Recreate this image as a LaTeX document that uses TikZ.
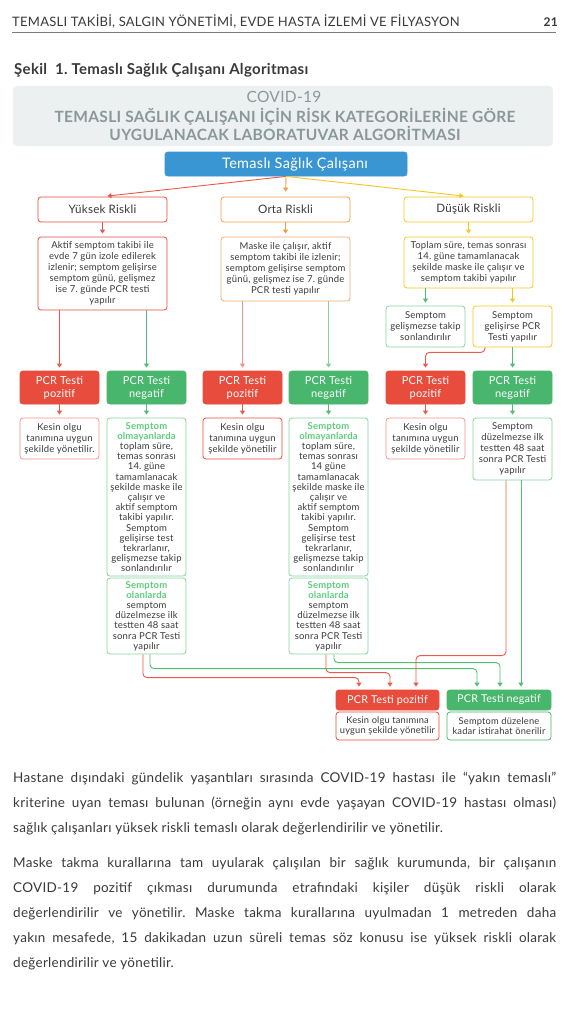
\documentclass[tikz,border=0pt]{standalone}
\usepackage{fontspec}
\setmainfont{Lato}[LetterSpace=2]
\usetikzlibrary{arrows.meta,calc}
\definecolor{cred}{HTML}{E74C3C}
\definecolor{credl}{HTML}{F1948A}
\definecolor{credline}{HTML}{EA5A4C}
\definecolor{cgreen}{HTML}{48B66C}
\definecolor{cgreenl}{HTML}{86D29C}
\definecolor{cgreenline}{HTML}{52BC74}
\definecolor{corange}{HTML}{F39C3C}
\definecolor{corangel}{HTML}{F4AA70}
\definecolor{cyellow}{HTML}{F4C724}
\definecolor{cblue}{HTML}{3A96D3}
\definecolor{cgraybg}{HTML}{ECF0F1}
\definecolor{ctitle}{HTML}{8A9899}
\definecolor{ctxt}{HTML}{3A3A3A}
\definecolor{cemph}{HTML}{5CCF7C}
\definecolor{crule}{HTML}{7A7A7A}
\newcommand\myfs[2]{\fontsize{#1}{#2}\selectfont}
\newcommand\hlg[1]{\textcolor{cemph}{\bfseries #1}}
\frenchspacing
\begin{document}
\begin{tikzpicture}[x=1pt,y=-1pt,
  basebox/.style={rounded corners=3pt, line width=0.8pt, align=center, inner sep=1pt, text=ctxt, fill=white, font=\myfs{9.5}{11}},
  outl/.style={basebox, draw=#1},
  solidbox/.style={basebox, fill=#1, draw=#1, text=white, font=\myfs{11}{13}},
  arr/.style={-{Triangle[width=5pt,length=4pt]}, line width=0.9pt, shorten >=3pt, rounded corners=4pt},
  plain/.style={anchor=base west, inner sep=0, text=ctxt}
]
\useasboundingbox[fill=white] (0,0) rectangle (566,1022);

% header
\node[plain, font=\myfs{13}{15}] (hdr) at (12,27) {TEMASLI TAKİBİ, SALGIN YÖNETİMİ, EVDE HASTA İZLEMİ VE FİLYASYON};
\node[anchor=base east, inner sep=0, text=ctxt, font=\bfseries\myfs{12}{14}] (pg) at (558,27) {21};
\draw[line width=1pt, crule] (12,33) -- (556,33);

\node[plain, font=\bfseries\myfs{15}{17}] (sekil) at (14,75) {Şekil\ \ 1. Temaslı Sağlık Çalışanı Algoritması};

% title box
\node[fill=cgraybg, rounded corners=4pt, minimum width=540pt, minimum height=60pt, inner sep=0] (tbox) at (283,116) {};
\node[font=\myfs{15.5}{16}, text=ctitle, inner sep=0] (tcovid) at (284,97) {COVID-19};
\node[font=\bfseries\myfs{15.5}{18}, text=ctitle, align=center, inner sep=0] (ttitle) at (285,124) {TEMASLI SAĞLIK ÇALIŞANI İÇİN RİSK KATEGORİLERİNE GÖRE\\UYGULANACAK LABORATUVAR ALGORİTMASI};

% top
\node[solidbox=cblue, minimum width=242pt, minimum height=24pt] (top) at (286,164) {};
\node[text=white, inner sep=0, font=\myfs{14.5}{16}] (toptxt) at (295,164) {Temaslı Sağlık Çalışanı};

% risk boxes
\node[outl=cred, minimum width=129pt, minimum height=25pt, font=\myfs{11.6}{13}] (yr) at (102.5,209.5) {Yüksek Riskli};
\node[outl=corange, minimum width=129pt, minimum height=25pt, font=\myfs{11.6}{13}] (or) at (285.5,209.5) {Orta Riskli};
\node[outl=cyellow, minimum width=129pt, minimum height=25pt, font=\myfs{11.6}{13}] (dr) at (468.5,209.5) {Düşük Riskli};

% descriptions
\node[outl=cred, minimum width=129pt, minimum height=73pt] (yd) at (102.5,273.5) {Aktif semptom takibi ile\\evde 7 gün izole edilerek\\izlenir; semptom gelişirse\\semptom günü, gelişmez\\ise 7. günde PCR testi\\yapılır};
\node[outl=corangel, minimum width=129pt, minimum height=64pt] (od) at (285.5,269) {Maske ile çalışır, aktif\\semptom takibi ile izlenir;\\semptom gelişirse semptom\\günü, gelişmez ise 7. günde\\PCR testi yapılır};
\node[outl=cyellow, minimum width=129pt, minimum height=51pt] (dd) at (468.5,262.5) {Toplam süre, temas sonrası\\14. güne tamamlanacak\\şekilde maske ile çalışır ve\\semptom takibi yapılır};
\node[outl=cgreenl, minimum width=79pt, minimum height=41pt] (dg) at (425.5,326.5) {Semptom\\gelişmezse takip\\sonlandırılır};
\node[outl=cyellow, minimum width=79pt, minimum height=41pt] (dy) at (512.5,326.5) {Semptom\\gelişirse PCR\\Testi yapılır};

% PCR row
\node[solidbox=cred, minimum width=79pt, minimum height=33pt] (ypos) at (59.5,387.5) {PCR Testi\\pozitif};
\node[solidbox=cgreen, minimum width=79pt, minimum height=33pt] (yneg) at (146.5,387.5) {PCR Testi\\negatif};
\node[solidbox=cred, minimum width=79pt, minimum height=33pt] (opos) at (242.5,387.5) {PCR Testi\\pozitif};
\node[solidbox=cgreen, minimum width=79pt, minimum height=33pt] (oneg) at (328.5,387.5) {PCR Testi\\negatif};
\node[solidbox=cred, minimum width=79pt, minimum height=33pt] (dpos) at (425.5,387.5) {PCR Testi\\pozitif};
\node[solidbox=cgreen, minimum width=79pt, minimum height=33pt] (dneg) at (512.5,387.5) {PCR Testi\\negatif};

% results
\node[outl=credl, minimum width=79pt, minimum height=41pt] (yk) at (59.5,438.5) {Kesin olgu\\tanımına uygun\\şekilde yönetilir.};
\node[outl=cgreenl, minimum width=79pt, minimum height=158pt, font=\myfs{9.5}{10.2}] (yg1) at (146.5,497) {\hlg{Semptom}\\\hlg{olmayanlarda}\\toplam süre,\\temas sonrası\\14. güne\\tamamlanacak\\şekilde maske ile\\çalışır ve\\aktif semptom\\takibi yapılır.\\Semptom\\gelişirse test\\tekrarlanır,\\gelişmezse takip\\sonlandırılır};
\node[outl=cgreenl, minimum width=79pt, minimum height=76pt, font=\myfs{9.5}{10.2}] (yg2) at (146.5,616) {\hlg{Semptom}\\\hlg{olanlarda}\\semptom\\düzelmezse ilk\\testten 48 saat\\sonra PCR Testi\\yapılır};
\node[outl=cred, minimum width=79pt, minimum height=41pt] (ok) at (242.5,438.5) {Kesin olgu\\tanımına uygun\\şekilde yönetilir};
\node[outl=cgreenl, minimum width=79pt, minimum height=158pt, font=\myfs{9.5}{10.2}] (og1) at (328.5,497) {\hlg{Semptom}\\\hlg{olmayanlarda}\\toplam süre,\\temas sonrası\\14 güne\\tamamlanacak\\şekilde maske ile\\çalışır ve\\aktif semptom\\takibi yapılır.\\Semptom\\gelişirse test\\tekrarlanır,\\gelişmezse takip\\sonlandırılır};
\node[outl=cgreenl, minimum width=79pt, minimum height=76pt, font=\myfs{9.5}{10.2}] (og2) at (328.5,616) {\hlg{Semptom}\\\hlg{olanlarda}\\semptom\\düzelmezse ilk\\testten 48 saat\\sonra PCR Testi\\yapılır};
\node[outl=credl, minimum width=79pt, minimum height=41pt] (dk) at (425.5,438.5) {Kesin olgu\\tanımına uygun\\şekilde yönetilir};
\node[outl=cgreenl, minimum width=79pt, minimum height=62pt] (dgr) at (512.5,449) {Semptom\\düzelmezse ilk\\testten 48 saat\\sonra PCR Testi\\yapılır};

% final
\node[solidbox=cred, minimum width=103pt, minimum height=20pt, font=\myfs{10.8}{12}] (fpos) at (387.5,700) {PCR Testi pozitif};
\node[solidbox=cgreen, minimum width=104pt, minimum height=20pt, font=\myfs{10.8}{12}] (fneg) at (499,700) {PCR Testi negatif};
\node[outl=cred, minimum width=103pt, minimum height=28pt, font=\myfs{9.3}{10.5}] (fposd) at (387.5,726) {Kesin olgu tanımına\\uygun şekilde yönetilir};
\node[outl=cgreen, minimum width=104pt, minimum height=28pt, font=\myfs{9.3}{10.5}] (fnegd) at (499,726) {Semptom düzelene\\kadar istirahat önerilir};

% connectors
\draw[arr, credline, shorten >=5pt] (top.south) -- (yr.north);
\draw[arr, corange, shorten >=5pt] (top.south) -- (or.north);
\draw[arr, cyellow, shorten >=5pt] (top.south) -- (dr.north);
\draw[arr, credline] (yr) -- (yd);
\draw[arr, corange] (or) -- (od);
\draw[arr, cyellow] (dr) -- (dd);
\draw[arr, cgreenline] (dd.south -| dg.north) -- (dg.north);
\draw[arr, cyellow] (dd.south -| dy.north) -- (dy.north);
\draw[arr, credline] ($(dy.south)+(-27.5,0)$) -- ++(0,5) -| (dpos.north);
\draw[arr, cgreenline] (dy.south -| dneg.north) -- (dneg.north);
\draw[arr, credline] (yd.south -| ypos.north) -- (ypos.north);
\draw[arr, cgreenline] (yd.south -| yneg.north) -- (yneg.north);
\draw[arr, credl] (od.south -| opos.north) -- (opos.north);
\draw[arr, cgreenl] (od.south -| oneg.north) -- (oneg.north);
\draw[arr, credline] (ypos) -- (yk);
\draw[arr, cgreenline] (yneg) -- (yg1);
\draw[arr, credline] (opos) -- (ok);
\draw[arr, cgreenline] (oneg) -- (og1);
\draw[arr, credline] (dpos) -- (dk);
\draw[arr, cgreenline] (dneg) -- (dgr);

\draw[arr, credline] ($(yg2.south)+(-3.5,0)$) |- ($(fpos.north)+(-28.5,-12)$) -- ($(fpos.north)+(-28.5,0)$);
\draw[arr, cgreenline] ($(yg2.south)+(3.5,0)$) |- ($(fneg.north)+(-22,-21)$) -- ($(fneg.north)+(-22,0)$);
\draw[arr, credline] ($(og2.south)+(-2.5,0)$) |- ($(fpos.north)+(2.5,-17)$) -- ($(fpos.north)+(2.5,0)$);
\draw[arr, cgreenline] ($(og2.south)+(5.5,0)$) |- ($(fneg.north)+(1,-27)$) -- ($(fneg.north)+(1,0)$);
\draw[arr, credline] ($(dgr.south)+(-6.5,0)$) |- ($(fpos.north)+(28.5,-34)$) -- ($(fpos.north)+(28.5,0)$);
\draw[arr, cgreenline] ($(dgr.south)+(8.5,0)$) -- ($(fneg.north)+(22,0)$);

% body text
\node[plain, text width=543pt, align=justify, font=\myfs{13.5}{25}] (p1) at (13,782) {Hastane dışındaki gündelik yaşantıları sırasında COVID-19 hastası ile “yakın temaslı”\linebreak kriterine uyan teması bulunan (örneğin aynı evde yaşayan COVID-19 hastası olması)\linebreak sağlık çalışanları yüksek riskli temaslı olarak değerlendirilir ve yönetilir.};
\node[plain, text width=543pt, align=justify, font=\myfs{13.5}{25}] (p2) at (13,867) {Maske takma kurallarına tam uyularak çalışılan bir sağlık kurumunda, bir çalışanın\linebreak COVID-19 pozitif çıkması durumunda etrafındaki kişiler düşük riskli olarak\linebreak değerlendirilir ve yönetilir. Maske takma kurallarına uyulmadan 1 metreden daha\linebreak yakın mesafede, 15 dakikadan uzun süreli temas söz konusu ise yüksek riskli olarak\linebreak değerlendirilir ve yönetilir.};
\end{tikzpicture}
\end{document}
